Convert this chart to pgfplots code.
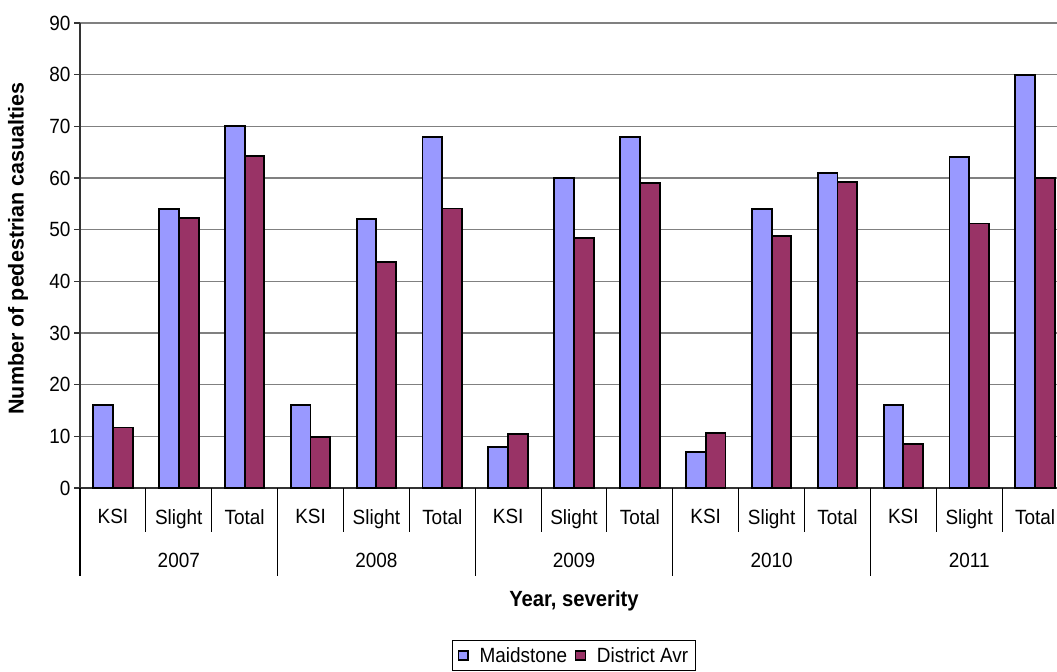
\documentclass[border=0pt]{standalone}
\usepackage{fontspec}
\setmainfont{Liberation Sans}[FakeStretch=0.92]
\newfontfamily\yfont{Liberation Sans}
\usepackage{pgfplots}
\pgfplotsset{compat=1.18}
\definecolor{maid}{HTML}{9999FF}
\definecolor{dist}{HTML}{993366}
\definecolor{gridc}{HTML}{808080}
\newcommand\f{\fontsize{20.6bp}{24bp}\selectfont}
\begin{document}
\begin{tikzpicture}
\begin{axis}[
  at={(80bp,184bp)}, anchor=south west,
  scale only axis, width=988bp, height=465bp,
  xmin=-0.5, xmax=14.5, ymin=0, ymax=90,
  clip=false,
  ybar=0pt, bar width=0.3,
  axis lines*=left,
  axis line style={draw=black!80, line width=1.4bp},
  ytick={0,10,...,90},
  ymajorgrids, grid style={gridc, line width=1.3bp},
  tick align=outside, major tick length=6bp,
  ytick style={black!80, line width=1.2bp},
  xtick={0,...,14}, xtick style={draw=none},
  xticklabels={KSI,Slight,Total,KSI,Slight,Total,KSI,Slight,Total,KSI,Slight,Total,KSI,Slight,Total},
  xticklabel style={font=\f, yshift=-12bp},
  yticklabel style={font=\f},
  /pgf/number format/assume math mode=true,
  ylabel={Number of pedestrian casualties},
  ylabel style={font=\fontsize{21.5bp}{26bp}\yfont\bfseries, at={(rel axis cs:0,0.5)}, anchor=center, rotate=0, yshift=62bp, xshift=7bp},
  every axis plot/.append style={draw=black, line width=1.9bp},
  area legend,
  legend columns=2,
  legend style={at={(axis cs:7,0)}, anchor=north, yshift=-152bp, font=\f, draw=black, line width=0.8bp,
    /tikz/every odd column/.append style={column sep=9bp},
    /tikz/every even column/.append style={column sep=6bp}, inner xsep=5bp, inner ysep=5bp},
  legend image code/.code={\draw[#1, line width=1.4bp] (0bp,-4.5bp) rectangle (9.5bp,4.5bp);},
]
\addplot[fill=maid] coordinates {(0,16) (1,54) (2,70) (3,16) (4,52) (5,68) (6,8) (7,60) (8,68) (9,7) (10,54) (11,61) (12,16) (13,64) (14,80)};
\addplot[fill=dist] coordinates {(0,11.7) (1,52.2) (2,64.3) (3,9.9) (4,43.8) (5,54.1) (6,10.4) (7,48.4) (8,59) (9,10.6) (10,48.8) (11,59.3) (12,8.6) (13,51.2) (14,60)};
\legend{Maidstone,District Avr}
\pgfplotsinvokeforeach{0.5,1.5,3.5,4.5,6.5,7.5,9.5,10.5,12.5,13.5}{
  \draw[black, line width=1.1bp] (axis cs:#1,0) -- ++(0bp,-44bp);
}
\pgfplotsinvokeforeach{-0.5,2.5,5.5,8.5,11.5,14.5}{
  \draw[black, line width=1.1bp] (axis cs:#1,0) -- ++(0bp,-88bp);
}
\node[anchor=base, font=\f, yshift=-79bp] at (axis cs:1,0) {2007};
\node[anchor=base, font=\f, yshift=-79bp] at (axis cs:4,0) {2008};
\node[anchor=base, font=\f, yshift=-79bp] at (axis cs:7,0) {2009};
\node[anchor=base, font=\f, yshift=-79bp] at (axis cs:10,0) {2010};
\node[anchor=base, font=\f, yshift=-79bp] at (axis cs:13,0) {2011};
\node[anchor=base, font=\fontsize{22bp}{26bp}\selectfont\bfseries, yshift=-118bp] at (axis cs:7,0) {Year, severity};
\end{axis}
\pgfresetboundingbox
\path[use as bounding box] (0,0) rectangle (1057bp,672bp);
\end{tikzpicture}
\end{document}
